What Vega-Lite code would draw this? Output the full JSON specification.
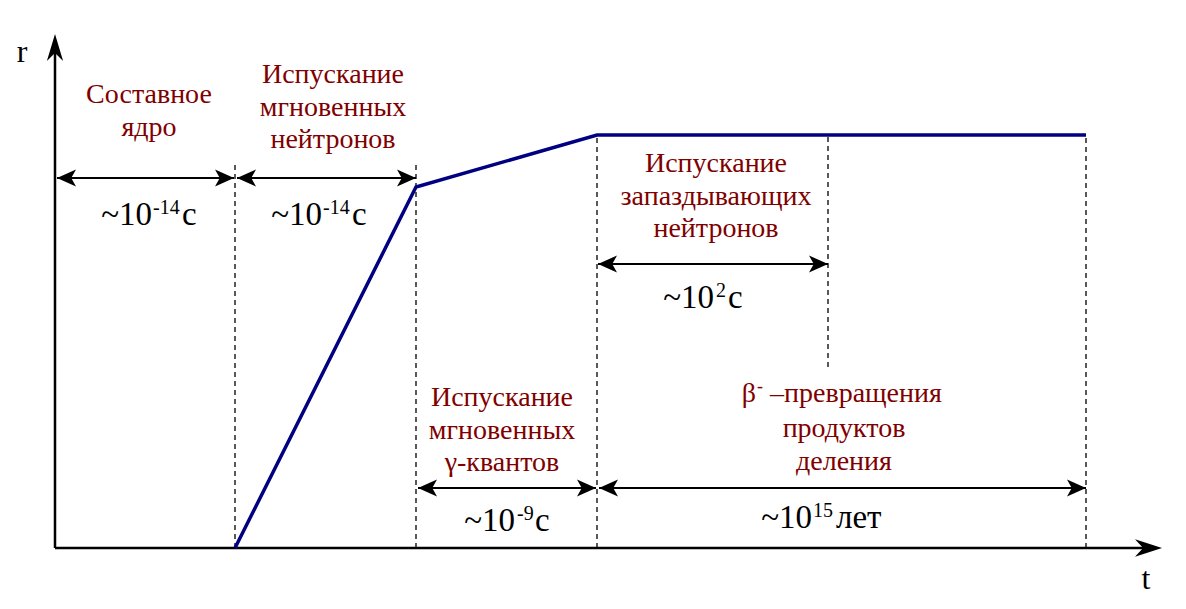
{
  "$schema": "https://vega.github.io/schema/vega-lite/v6.json",
  "width": 1186,
  "height": 609,
  "autosize": {"type": "fit", "contains": "padding"},
  "padding": 0,
  "config": {"view": {"stroke": null}, "font": "Liberation Serif"},
  "datasets": {
    "curve": [
      {"t": 180, "r": 0},
      {"t": 361, "r": 361},
      {"t": 542, "r": 413},
      {"t": 1031, "r": 413}
    ],
    "guides": [
      {"t": 180, "r1": 0, "r2": 386},
      {"t": 361, "r1": 0, "r2": 386},
      {"t": 542, "r1": 0, "r2": 413},
      {"t": 773, "r1": 181, "r2": 413},
      {"t": 1031, "r1": 0, "r2": 413}
    ],
    "spans": [
      {"t1": 2, "t2": 179, "r": 370},
      {"t1": 182, "t2": 361, "r": 370},
      {"t1": 543, "t2": 773, "r": 284},
      {"t1": 363, "t2": 541, "r": 60},
      {"t1": 544, "t2": 1031, "r": 60}
    ],
    "captions": [
      {"t": 94, "r": 445, "label": "Составное\nядро"},
      {"t": 278, "r": 465, "label": "Испускание\nмгновенных\nнейтронов"},
      {"t": 661, "r": 376, "label": "Испускание\nзапаздывающих\nнейтронов"},
      {"t": 447, "r": 142, "label": "Испускание\nмгновенных\nγ-квантов"},
      {"t": 789, "r": 111, "label": "продуктов\nделения"}
    ],
    "betaLine": [
      {"t": 701, "r": 146, "part": "base", "label": "β"},
      {"t": 702, "r": 156, "part": "sup", "label": "-"},
      {"t": 715, "r": 146, "part": "unit", "label": "–превращения"}
    ],
    "times": [
      {"t": 97, "r": 323, "part": "base", "label": "~10"},
      {"t": 98, "r": 334, "part": "sup", "label": "-14"},
      {"t": 127, "r": 323, "part": "unit", "label": "с"},
      {"t": 267, "r": 323, "part": "base", "label": "~10"},
      {"t": 268, "r": 334, "part": "sup", "label": "-14"},
      {"t": 297, "r": 323, "part": "unit", "label": "с"},
      {"t": 659, "r": 240, "part": "base", "label": "~10"},
      {"t": 661, "r": 251, "part": "sup", "label": "2"},
      {"t": 673, "r": 240, "part": "unit", "label": "с"},
      {"t": 460, "r": 17, "part": "base", "label": "~10"},
      {"t": 462, "r": 28, "part": "sup", "label": "-9"},
      {"t": 480, "r": 17, "part": "unit", "label": "с"},
      {"t": 757, "r": 20, "part": "base", "label": "~10"},
      {"t": 758, "r": 31, "part": "sup", "label": "15"},
      {"t": 781, "r": 20, "part": "unit", "label": "лет"}
    ],
    "axisNames": [
      {"t": -33, "r": 486, "label": "r"},
      {"t": 1091, "r": -41, "label": "t"}
    ]
  },
  "layer": [
    {
      "data": {"name": "guides"},
      "mark": {"type": "rule", "color": "#000000", "strokeWidth": 1.3, "strokeDash": [5, 4]},
      "encoding": {
        "x": {"field": "t", "type": "quantitative", "scale": {"domain": [-55, 1131], "nice": false, "zero": false}, "axis": null},
        "y": {"field": "r1", "type": "quantitative", "scale": {"domain": [-61, 548], "nice": false, "zero": false}, "axis": null},
        "y2": {"field": "r2"}
      }
    },
    {
      "data": {"values": [{"t1": 0, "t2": 1095, "r1": 0, "r2": 0}, {"t1": 0, "t2": 0, "r1": 0, "r2": 500}]},
      "mark": {"type": "rule", "color": "#000000", "strokeWidth": 2.5},
      "encoding": {
        "x": {"field": "t1", "type": "quantitative", "scale": {"domain": [-55, 1131], "nice": false, "zero": false}, "axis": null},
        "x2": {"field": "t2"},
        "y": {"field": "r1", "type": "quantitative", "scale": {"domain": [-61, 548], "nice": false, "zero": false}, "axis": null},
        "y2": {"field": "r2"}
      }
    },
    {
      "data": {"values": [{"t": 1107, "r": 0}]},
      "mark": {"type": "point", "shape": "M0,0 L-2,-0.65 L-1.4,0 L-2,0.65 Z", "size": 729, "filled": true, "color": "#000000", "opacity": 1},
      "encoding": {
        "x": {"field": "t", "type": "quantitative", "scale": {"domain": [-55, 1131], "nice": false, "zero": false}, "axis": null},
        "y": {"field": "r", "type": "quantitative", "scale": {"domain": [-61, 548], "nice": false, "zero": false}, "axis": null}
      }
    },
    {
      "data": {"values": [{"t": 0, "r": 514}]},
      "mark": {"type": "point", "shape": "M0,0 L-0.6,2 L0,1.4 L0.6,2 Z", "size": 729, "filled": true, "color": "#000000", "opacity": 1},
      "encoding": {
        "x": {"field": "t", "type": "quantitative", "scale": {"domain": [-55, 1131], "nice": false, "zero": false}, "axis": null},
        "y": {"field": "r", "type": "quantitative", "scale": {"domain": [-61, 548], "nice": false, "zero": false}, "axis": null}
      }
    },
    {
      "data": {"name": "spans"},
      "mark": {"type": "rule", "color": "#000000", "strokeWidth": 2},
      "encoding": {
        "x": {"field": "t1", "type": "quantitative", "scale": {"domain": [-55, 1131], "nice": false, "zero": false}, "axis": null},
        "x2": {"field": "t2"},
        "y": {"field": "r", "type": "quantitative", "scale": {"domain": [-61, 548], "nice": false, "zero": false}, "axis": null}
      }
    },
    {
      "data": {"name": "spans"},
      "mark": {"type": "point", "shape": "M0,0 L-2,-0.9 L-1.5,0 L-2,0.9 Z", "size": 361, "filled": true, "color": "#000000", "opacity": 1},
      "encoding": {
        "x": {"field": "t2", "type": "quantitative", "scale": {"domain": [-55, 1131], "nice": false, "zero": false}, "axis": null},
        "y": {"field": "r", "type": "quantitative", "scale": {"domain": [-61, 548], "nice": false, "zero": false}, "axis": null}
      }
    },
    {
      "data": {"name": "spans"},
      "mark": {"type": "point", "shape": "M0,0 L2,-0.9 L1.5,0 L2,0.9 Z", "size": 361, "filled": true, "color": "#000000", "opacity": 1},
      "encoding": {
        "x": {"field": "t1", "type": "quantitative", "scale": {"domain": [-55, 1131], "nice": false, "zero": false}, "axis": null},
        "y": {"field": "r", "type": "quantitative", "scale": {"domain": [-61, 548], "nice": false, "zero": false}, "axis": null}
      }
    },
    {
      "data": {"name": "curve"},
      "mark": {"type": "line", "color": "#000080", "strokeWidth": 3.5, "strokeJoin": "miter"},
      "encoding": {
        "x": {"field": "t", "type": "quantitative", "scale": {"domain": [-55, 1131], "nice": false, "zero": false}, "axis": null},
        "y": {"field": "r", "type": "quantitative", "scale": {"domain": [-61, 548], "nice": false, "zero": false}, "axis": null},
        "order": {"field": "t"}
      }
    },
    {
      "data": {"name": "captions"},
      "mark": {"type": "text", "font": "Liberation Serif", "fontSize": 28, "fill": "#800000", "align": "center", "baseline": "alphabetic", "lineBreak": "\n", "lineHeight": 32.5},
      "encoding": {
        "x": {"field": "t", "type": "quantitative", "scale": {"domain": [-55, 1131], "nice": false, "zero": false}, "axis": null},
        "y": {"field": "r", "type": "quantitative", "scale": {"domain": [-61, 548], "nice": false, "zero": false}, "axis": null},
        "text": {"field": "label"}
      }
    },
    {
      "data": {"name": "betaLine"},
      "transform": [{"filter": "datum.part === 'base'"}],
      "mark": {"type": "text", "font": "Liberation Serif", "fontSize": 28, "fill": "#800000", "align": "right", "baseline": "alphabetic"},
      "encoding": {
        "x": {"field": "t", "type": "quantitative", "scale": {"domain": [-55, 1131], "nice": false, "zero": false}, "axis": null},
        "y": {"field": "r", "type": "quantitative", "scale": {"domain": [-61, 548], "nice": false, "zero": false}, "axis": null},
        "text": {"field": "label"}
      }
    },
    {
      "data": {"name": "betaLine"},
      "transform": [{"filter": "datum.part === 'sup'"}],
      "mark": {"type": "text", "font": "Liberation Serif", "fontSize": 18, "fill": "#800000", "align": "left", "baseline": "alphabetic"},
      "encoding": {
        "x": {"field": "t", "type": "quantitative", "scale": {"domain": [-55, 1131], "nice": false, "zero": false}, "axis": null},
        "y": {"field": "r", "type": "quantitative", "scale": {"domain": [-61, 548], "nice": false, "zero": false}, "axis": null},
        "text": {"field": "label"}
      }
    },
    {
      "data": {"name": "betaLine"},
      "transform": [{"filter": "datum.part === 'unit'"}],
      "mark": {"type": "text", "font": "Liberation Serif", "fontSize": 28, "fill": "#800000", "align": "left", "baseline": "alphabetic"},
      "encoding": {
        "x": {"field": "t", "type": "quantitative", "scale": {"domain": [-55, 1131], "nice": false, "zero": false}, "axis": null},
        "y": {"field": "r", "type": "quantitative", "scale": {"domain": [-61, 548], "nice": false, "zero": false}, "axis": null},
        "text": {"field": "label"}
      }
    },
    {
      "data": {"name": "times"},
      "transform": [{"filter": "datum.part === 'base'"}],
      "mark": {"type": "text", "font": "Liberation Serif", "fontSize": 33, "fill": "#000000", "align": "right", "baseline": "alphabetic"},
      "encoding": {
        "x": {"field": "t", "type": "quantitative", "scale": {"domain": [-55, 1131], "nice": false, "zero": false}, "axis": null},
        "y": {"field": "r", "type": "quantitative", "scale": {"domain": [-61, 548], "nice": false, "zero": false}, "axis": null},
        "text": {"field": "label"}
      }
    },
    {
      "data": {"name": "times"},
      "transform": [{"filter": "datum.part === 'sup'"}],
      "mark": {"type": "text", "font": "Liberation Serif", "fontSize": 20, "fill": "#000000", "align": "left", "baseline": "alphabetic"},
      "encoding": {
        "x": {"field": "t", "type": "quantitative", "scale": {"domain": [-55, 1131], "nice": false, "zero": false}, "axis": null},
        "y": {"field": "r", "type": "quantitative", "scale": {"domain": [-61, 548], "nice": false, "zero": false}, "axis": null},
        "text": {"field": "label"}
      }
    },
    {
      "data": {"name": "times"},
      "transform": [{"filter": "datum.part === 'unit'"}],
      "mark": {"type": "text", "font": "Liberation Serif", "fontSize": 33, "fill": "#000000", "align": "left", "baseline": "alphabetic"},
      "encoding": {
        "x": {"field": "t", "type": "quantitative", "scale": {"domain": [-55, 1131], "nice": false, "zero": false}, "axis": null},
        "y": {"field": "r", "type": "quantitative", "scale": {"domain": [-61, 548], "nice": false, "zero": false}, "axis": null},
        "text": {"field": "label"}
      }
    },
    {
      "data": {"name": "axisNames"},
      "mark": {"type": "text", "font": "Liberation Serif", "fontSize": 32, "fill": "#000000", "align": "center", "baseline": "alphabetic"},
      "encoding": {
        "x": {"field": "t", "type": "quantitative", "scale": {"domain": [-55, 1131], "nice": false, "zero": false}, "axis": null},
        "y": {"field": "r", "type": "quantitative", "scale": {"domain": [-61, 548], "nice": false, "zero": false}, "axis": null},
        "text": {"field": "label"}
      }
    }
  ]
}
